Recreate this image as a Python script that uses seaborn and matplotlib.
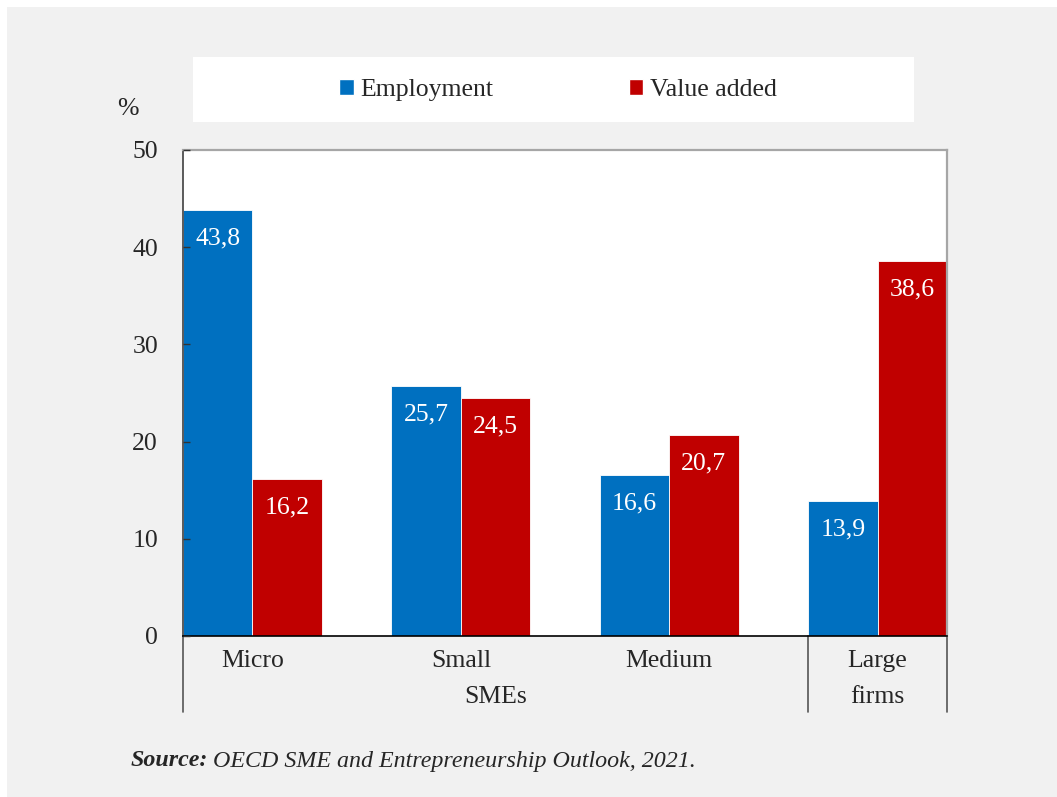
import numpy as np
import pandas as pd
import matplotlib.pyplot as plt
from matplotlib.patches import Rectangle
import matplotlib.transforms as mtransforms
import seaborn as sns

categories = ['Micro', 'Small', 'Medium', 'Large']
employment = [43.8, 25.7, 16.6, 13.9]
value_added = [16.2, 24.5, 20.7, 38.6]
series = ['Employment', 'Value added']
colors = ['#0070c0', '#c00000']
yticks = [0, 10, 20, 30, 40, 50]

df = pd.DataFrame({
    'Category': categories * 2,
    'Share': employment + value_added,
    'Series': [series[0]] * 4 + [series[1]] * 4,
})

sns.set_style('white')
plt.rcParams['font.family'] = ['Liberation Serif', 'DejaVu Serif']
fs = 18.5

fig = plt.figure(figsize=(10.57, 7.97), dpi=100, facecolor='white')
fig.add_artist(Rectangle((7 / 1057, 0), 1, 1 - 7 / 797, transform=fig.transFigure,
                         facecolor='#f1f1f1', edgecolor='none', zorder=-10))
fig.add_artist(Rectangle((193 / 1057, 1 - 122 / 797), 721 / 1057, 65 / 797,
                         transform=fig.transFigure, facecolor='white',
                         edgecolor='none', zorder=-5))

ax = fig.add_axes([183 / 1057, 1 - 636 / 797, 764 / 1057, 486 / 797])
sns.barplot(data=df, x='Category', y='Share', hue='Series', hue_order=series,
            palette=colors, width=2 / 3, saturation=1, edgecolor='white',
            linewidth=0.6, legend=False, ax=ax)
ax.set_facecolor('white')
ax.set_axisbelow(False)
ax.set_xlim(-1 / 3, 3 + 1 / 3)
ax.set_ylim(0, 50)
ax.set_yticks(yticks)
ax.set_yticklabels([str(t) for t in yticks], fontsize=fs)
ax.tick_params(axis='y', direction='in', length=5, width=1, color='#333333',
               pad=18, left=True)
ax.tick_params(axis='x', length=0, pad=10, labelsize=fs)
ax.set_xticks(range(4))
ax.set_xticklabels(categories)
ax.set_xlabel('')
ax.set_ylabel('')

for side in ['top', 'right']:
    ax.spines[side].set_color('#a6a6a6')
    ax.spines[side].set_linewidth(1.6)
ax.spines['left'].set_color('#404040')
ax.spines['left'].set_linewidth(1.2)
ax.spines['bottom'].set_color('black')
ax.spines['bottom'].set_linewidth(1.2)

# value labels inside bars
for container, vals in zip(ax.containers, [employment, value_added]):
    for bar, v in zip(container, vals):
        ax.annotate(f'{v:.1f}'.replace('.', ','),
                    (bar.get_x() + bar.get_width() / 2, bar.get_height()),
                    xytext=(0, -20.5), textcoords='offset points',
                    ha='center', va='center', color='white', fontsize=fs)

# second level of category axis
trans = mtransforms.blended_transform_factory(ax.transData, ax.transAxes)
ax.text(1.1667, -0.126, 'SMEs', transform=trans, ha='center', va='center', fontsize=fs)
ax.text(3, -0.126, 'firms', transform=trans, ha='center', va='center', fontsize=fs)
for xv in [-1 / 3, 2 + 2 / 3, 3 + 1 / 3]:
    ax.plot([xv, xv], [0, -0.156], transform=trans, color='#555555',
            linewidth=1.2, clip_on=False)

fig.text(128 / 1057, 1 - 109 / 797, '%', ha='center', va='center', fontsize=fs)

handles = [Rectangle((0, 0), 1, 1, facecolor=c) for c in colors]
fig.legend(handles, series, loc='center', bbox_to_anchor=(558 / 1057, 1 - 90 / 797),
           ncol=2, frameon=False, fontsize=fs, handlelength=0.55, handleheight=0.55,
           handletextpad=0.25, columnspacing=5.3)

src = fig.text(131 / 1057, 1 - 761 / 797, 'Source:', fontsize=17.3,
               fontweight='bold', fontstyle='italic', va='center')
ax.annotate('OECD SME and Entrepreneurship Outlook, 2021.', xy=(1, 0.5),
            xycoords=src, xytext=(3, 0), textcoords='offset points',
            va='center', fontsize=17.3, fontstyle='italic',
            annotation_clip=False)

fig.savefig('out.png', dpi=100, facecolor='white')
